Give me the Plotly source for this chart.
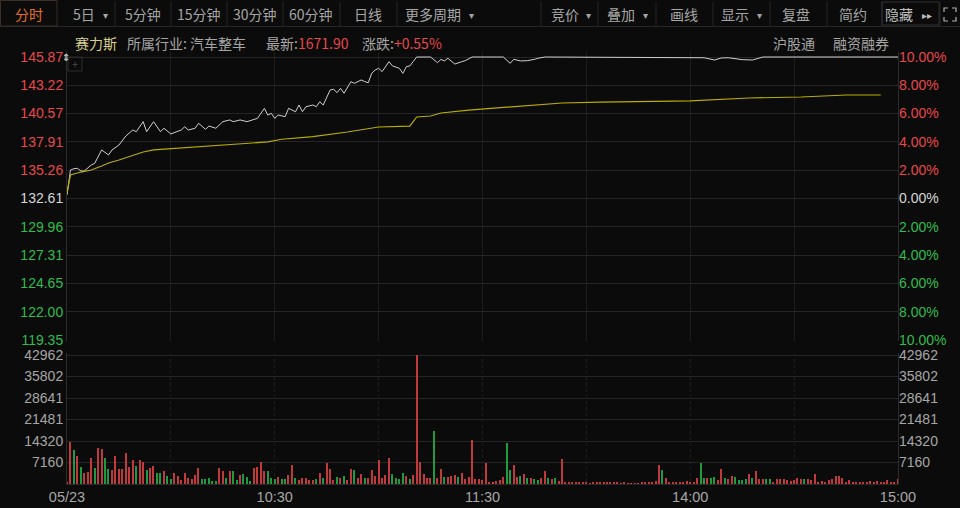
import plotly.graph_objects as go

# ---------------- data ----------------
PRE_CLOSE = 132.61

price_ticks = [145.87, 143.22, 140.57, 137.91, 135.26, 132.61, 129.96, 127.31, 124.65, 122.00, 119.35]
pct_labels = ["10.00%", "8.00%", "6.00%", "4.00%", "2.00%", "0.00%", "2.00%", "4.00%", "6.00%", "8.00%", "10.00%"]
vol_ticks = [7160, 14320, 21481, 28641, 35802, 42962]
time_ticks = [0, 30, 60, 90, 120, 150, 180, 210, 240]
time_labels = ["05/23", "", "10:30", "", "11:30", "", "14:00", "", "15:00"]

# minute index (0 = 09:30, 120 = 11:30/13:00, 240 = 15:00) and last price
price_min = [0, 1, 2, 3, 4, 5, 7, 8, 10, 12, 13, 15, 17, 19, 20, 22, 23, 25, 27, 28,
             30, 32, 33, 34, 35, 37, 38, 40, 41, 43, 45, 47, 48, 50, 52, 55, 57, 58, 59, 60,
             61, 63, 64, 66, 67, 68, 69, 71, 72, 73, 74, 76, 77, 78, 79, 80, 82, 83, 85, 86,
             87, 88, 89, 90, 91, 93, 94, 96, 97, 98, 99, 100, 101, 105, 107, 108, 109, 110, 112, 114,
             115, 117, 126, 128, 129, 131, 133, 135, 136, 138, 171, 172, 173, 183, 184, 187, 189, 191, 192, 195,
             198, 199, 201, 240]
price_val = [132.94, 135.28, 135.40, 135.44, 135.19, 135.19, 135.75, 135.90, 137.16, 136.69, 137.16, 137.62, 138.47, 139.03, 138.87, 139.81, 138.87, 139.81, 138.87, 139.19,
             138.66, 138.87, 139.03, 139.34, 139.03, 139.19, 139.66, 139.09, 139.40, 139.19, 139.81, 139.97, 139.81, 139.97, 139.81, 140.12, 141.06, 140.43, 140.59, 140.12,
             140.43, 140.28, 141.06, 140.74, 141.37, 140.74, 141.21, 141.37, 141.21, 141.68, 141.37, 142.78, 142.84, 142.53, 142.94, 142.47, 143.56, 143.40, 143.72, 143.56,
             143.46, 144.34, 144.65, 144.81, 144.50, 145.43, 145.03, 144.81, 144.34, 144.96, 145.03, 145.45, 145.87, 145.87, 145.34, 145.65, 145.50, 145.75, 145.21, 145.43,
             145.53, 145.87, 145.87, 145.28, 145.65, 145.50, 145.53, 145.65, 145.75, 145.87, 145.87, 145.80, 145.87, 145.87, 145.80, 145.59, 145.78, 145.80, 145.75, 145.62,
             145.59, 145.70, 145.87, 145.87]

avg_min = [0, 1, 4, 7, 10, 12, 15, 19, 22, 25, 29, 38, 48, 58, 62, 71, 81, 90, 99, 101,
           105, 108, 116, 127, 137, 143, 154, 180, 197, 212, 225, 235]
avg_val = [133.13, 134.81, 135.09, 135.28, 135.66, 135.94, 136.22, 136.69, 136.97, 137.16, 137.25, 137.44, 137.62, 137.91, 138.16, 138.40, 138.84, 139.31, 139.40, 140.25,
           140.34, 140.62, 140.90, 141.18, 141.47, 141.56, 141.65, 141.75, 142.03, 142.12, 142.31, 142.31]

volume = [
    777, 14097, 11322, 9324, 5772, 3774, 4107, 8547, 5217, 11877,
    11544, 8547, 4884, 4662, 9435, 4884, 4884, 10212, 5772, 7992,
    5994, 7992, 7437, 4662, 5217, 5994, 3774, 3774, 4440, 2664,
    1554, 3552, 2664, 1332, 3774, 1887, 1554, 2997, 5217, 1554,
    1554, 1887, 1110, 1110, 5439, 4329, 1887, 4329, 4329, 1332,
    2997, 3330, 2442, 1110, 5217, 5772, 7437, 4329, 4329, 1887,
    1554, 2442, 1554, 1554, 2997, 6327, 1887, 1332, 2109, 2109,
    1332, 1332, 1554, 3774, 1887, 7104, 4995, 1332, 2442, 1887,
    2664, 1332, 4995, 4662, 2109, 3219, 2109, 1887, 4662, 2664,
    7992, 1887, 2997, 8769, 3330, 1887, 1554, 3552, 2664, 1554,
    2997, 42962, 7437, 3330, 1887, 1887, 17760, 1887, 4995, 2442,
    2442, 2664, 2997, 2442, 3774, 1554, 2442, 14652, 1554, 1554,
    1332, 7104, 777, 444, 999, 1332, 2442, 13542, 4662, 6327,
    2442, 2664, 3330, 1887, 2109, 1554, 1332, 2109, 4329, 2109,
    1554, 2109, 1110, 8325, 444, 666, 444, 777, 777, 444,
    444, 222, 444, 666, 444, 444, 444, 444, 444, 444,
    222, 777, 222, 222, 222, 222, 444, 444, 444, 777,
    1110, 6327, 4662, 1887, 444, 444, 444, 777, 777, 999,
    444, 444, 2109, 7104, 1887, 1887, 1887, 2220, 1332, 4995,
    1887, 1554, 2664, 2442, 1332, 1332, 1554, 3219, 1887, 4329,
    1554, 1554, 1554, 1554, 777, 1554, 1554, 1554, 1332, 999,
    1332, 1887, 1554, 1554, 1554, 1332, 3330, 777, 1110, 777,
    1332, 1554, 2664, 2664, 2109, 777, 1332, 777, 777, 777,
    777, 777, 999, 777, 999, 777, 777, 1332, 444, 444,
    1554,
]
# minutes whose bar is a down (green) bar
down_minutes = [2, 4, 8, 11, 12, 20, 23, 26, 27, 29, 30, 39, 40, 41, 42, 43, 46, 48, 49, 51,
                52, 53, 58, 59, 60, 62, 63, 66, 72, 74, 78, 80, 83, 86, 94, 95, 96, 97, 99, 106,
                109, 113, 127, 128, 131, 133, 135, 136, 139, 141, 172, 183, 184, 186, 187, 190, 193, 194, 195, 196,
                198, 202, 203, 213]

# ---------------- styling ----------------
BG = "#0b0b0b"
RED = "#e8474a"
GREEN = "#2bbd4f"
WHITE = "#d6d6d6"
GRAY = "#a6a6a6"
GRID = "#252525"
VGRID = "#1d1d1d"
FONT = "Noto Sans CJK SC"
NUMFONT = "Liberation Sans"
BAR_RED = "#c03a3b"
BAR_GREEN = "#1e9a3a"

W, H = 960, 508
L, R, T, B = 67, 62, 28, 24
PW, PH = W - L - R, H - T - B


def X(px):
    return (px - L) / PW


def Y(py):
    return (H - B - py) / PH


def tick_color(v):
    if abs(v - PRE_CLOSE) < 1e-6:
        return WHITE
    return RED if v > PRE_CLOSE else GREEN


left_text = ['<span style="color:%s">%.2f</span>' % (tick_color(v), v) for v in price_ticks]
right_text = ['<span style="color:%s">%s</span>' % (tick_color(v), t) for v, t in zip(price_ticks, pct_labels)]

minutes = list(range(len(volume)))
bar_colors = [BAR_GREEN if m in down_minutes else BAR_RED for m in minutes]

# price panel pixel geometry: 145.87 at y=57, 119.35 at y=340
px_per_unit = (340 - 57) / (145.87 - 119.35)
p_top_px, p_bot_px = 52, 341
p_hi = 145.87 + (57 - p_top_px) / px_per_unit
p_lo = 145.87 - (p_bot_px - 57) / px_per_unit
# volume panel: 0 at y=484, 42962 at y=355
v_per_px = 42962 / (484 - 355)
v_top_px = 353
v_hi = (484 - v_top_px) * v_per_px

fig = go.Figure()
fig.add_trace(go.Scatter(x=price_min, y=price_val, mode="lines",
                         line=dict(color="#cfcfcf", width=1), xaxis="x", yaxis="y", hoverinfo="skip"))
fig.add_trace(go.Scatter(x=avg_min, y=avg_val, mode="lines",
                         line=dict(color="#b8ae00", width=1.2), xaxis="x", yaxis="y", hoverinfo="skip"))
fig.add_trace(go.Bar(x=minutes, y=volume, marker=dict(color=bar_colors, line=dict(width=0)),
                     width=0.36, xaxis="x2", yaxis="y2", hoverinfo="skip"))
fig.add_trace(go.Scatter(x=[0], y=[PRE_CLOSE], mode="markers", opacity=0,
                         xaxis="x", yaxis="y3", hoverinfo="skip"))
fig.add_trace(go.Scatter(x=[0], y=[0], mode="markers", opacity=0,
                         xaxis="x2", yaxis="y4", hoverinfo="skip"))

axis_common = dict(zeroline=False, fixedrange=True, automargin=False)
numfont = dict(size=14, family=NUMFONT)

fig.update_layout(
    width=W, height=H, autosize=False,
    margin=dict(l=L, r=R, t=T, b=B, pad=0, autoexpand=False),
    paper_bgcolor=BG, plot_bgcolor=BG,
    showlegend=False,
    bargap=0,
    font=dict(family=FONT, size=14, color=GRAY),
    xaxis=dict(domain=[0, 1], anchor="y", range=[0, 240], tickvals=time_ticks,
               showticklabels=False, showgrid=True, gridcolor=VGRID, gridwidth=1,
               showline=False, **axis_common),
    xaxis2=dict(domain=[0, 1], anchor="y2", range=[0, 240], tickvals=time_ticks, ticktext=time_labels,
                showgrid=True, gridcolor=VGRID, gridwidth=1, griddash="dot",
                tickfont=dict(color=GRAY, size=14.5, family=NUMFONT),
                showline=True, linecolor="#262626", linewidth=1, ticks="", **axis_common),
    yaxis=dict(domain=[Y(p_bot_px), Y(p_top_px)], anchor="x", range=[p_lo, p_hi],
               tickvals=price_ticks, ticktext=left_text, side="left",
               showgrid=True, gridcolor=GRID, gridwidth=1,
               tickfont=numfont,
               showline=True, linecolor="#2c2c2c", mirror=True, ticks="", **axis_common),
    yaxis2=dict(domain=[0, Y(v_top_px)], anchor="x2", range=[0, v_hi],
                tickvals=vol_ticks, ticktext=[str(v) for v in vol_ticks], side="left",
                showgrid=True, gridcolor=GRID, gridwidth=1,
                tickfont=dict(color=GRAY, **numfont),
                showline=True, linecolor="#2c2c2c", mirror=True, ticks="", **axis_common),
    yaxis3=dict(overlaying="y", side="right", anchor="x", range=[p_lo, p_hi],
                tickvals=price_ticks, ticktext=right_text, showgrid=False,
                tickfont=numfont, ticks="", **axis_common),
    yaxis4=dict(overlaying="y2", side="right", anchor="x2", range=[0, v_hi],
                tickvals=vol_ticks, ticktext=[str(v) for v in vol_ticks], showgrid=False,
                tickfont=dict(color=GRAY, **numfont), ticks="", **axis_common),
)

# ---------------- header decorations ----------------
annotations = []
shapes = []


def txt(text, px, py, color=GRAY, size=14, anchor="center", family=FONT):
    annotations.append(dict(text=text, x=X(px), y=Y(py), xref="paper", yref="paper",
                            xanchor=anchor, yanchor="middle", showarrow=False,
                            font=dict(color=color, size=size, family=family)))


def vline(px, y0, y1, color="#262626"):
    shapes.append(dict(type="line", xref="paper", yref="paper", x0=X(px), x1=X(px),
                       y0=Y(y0), y1=Y(y1), line=dict(color=color, width=1)))


def hline(x0, x1, py, color="#262626"):
    shapes.append(dict(type="line", xref="paper", yref="paper", x0=X(x0), x1=X(x1),
                       y0=Y(py), y1=Y(py), line=dict(color=color, width=1)))


# toolbar
hline(0, 960, 26.5)
shapes.append(dict(type="rect", xref="paper", yref="paper", x0=X(0.5), x1=X(57), y0=Y(26), y1=Y(0.5),
                   line=dict(color="#3a2e26", width=1), fillcolor=BG))
for sx in [115, 171, 227, 283, 340, 397, 541, 598, 656, 713, 770, 827, 882, 940]:
    vline(sx, 2, 26)
shapes.append(dict(type="rect", xref="paper", yref="paper", x0=X(882), x1=X(939), y0=Y(25), y1=Y(2),
                   line=dict(color="#303030", width=1), fillcolor="rgba(0,0,0,0)"))

txt("分时", 29, 14, color="#e3701e")
txt("5日", 84, 14)
txt("▾", 105, 14, size=10)
txt("5分钟", 143, 14)
txt("15分钟", 199, 14)
txt("30分钟", 255, 14)
txt("60分钟", 311, 14)
txt("日线", 368, 14)
txt("更多周期", 433, 14)
txt("▾", 471, 14, size=10)
txt("竞价", 565, 14)
txt("▾", 588, 14, size=10)
txt("叠加", 621, 14)
txt("▾", 645, 14, size=10)
txt("画线", 684, 14)
txt("显示", 735, 14)
txt("▾", 759, 14, size=10)
txt("复盘", 796, 14)
txt("简约", 853, 14)
txt("隐藏", 899, 14, color="#bdbdbd")
txt("▸▸", 927, 14, size=10, color="#bdbdbd")

# full-screen icon
for path in [(944, 12, 944, 8, 948, 8), (952, 8, 956, 8, 956, 12),
             (944, 17, 944, 21, 948, 21), (952, 21, 956, 21, 956, 17)]:
    a, b, c, d, e, f = path
    shapes.append(dict(type="path", xref="paper", yref="paper",
                       path="M %f %f L %f %f L %f %f" % (X(a), Y(b), X(c), Y(d), X(e), Y(f)),
                       line=dict(color="#b0b0b0", width=1.2)))

# info row
txt("赛力斯", 73, 43, color="#d8cf8c", anchor="left")
txt("所属行业: 汽车整车", 125, 43, anchor="left")
txt('最新:<span style="color:%s">1671.90</span>' % RED, 264, 43, anchor="left")
txt('涨跌:<span style="color:%s">+0.55%%</span>' % RED, 360, 43, anchor="left")
txt("沪股通", 771, 43, anchor="left")
txt("融资融券", 831, 43, anchor="left")

# small icons near the top of the price panel
txt("⇕", 66, 57, color="#e6e6e6", size=10, family="DejaVu Sans")
shapes.append(dict(type="rect", xref="paper", yref="paper", x0=X(68), x1=X(82), y0=Y(71), y1=Y(57),
                   line=dict(color="#2e2e2e", width=1), fillcolor="rgba(0,0,0,0)"))
txt("+", 75, 64, color="#4a4a4a", size=11)

fig.update_layout(annotations=annotations, shapes=shapes)

post = "document.body.style.margin='0';document.body.style.background='%s';" % BG
fig.write_html("out.html", config={"displayModeBar": False}, post_script=post)
